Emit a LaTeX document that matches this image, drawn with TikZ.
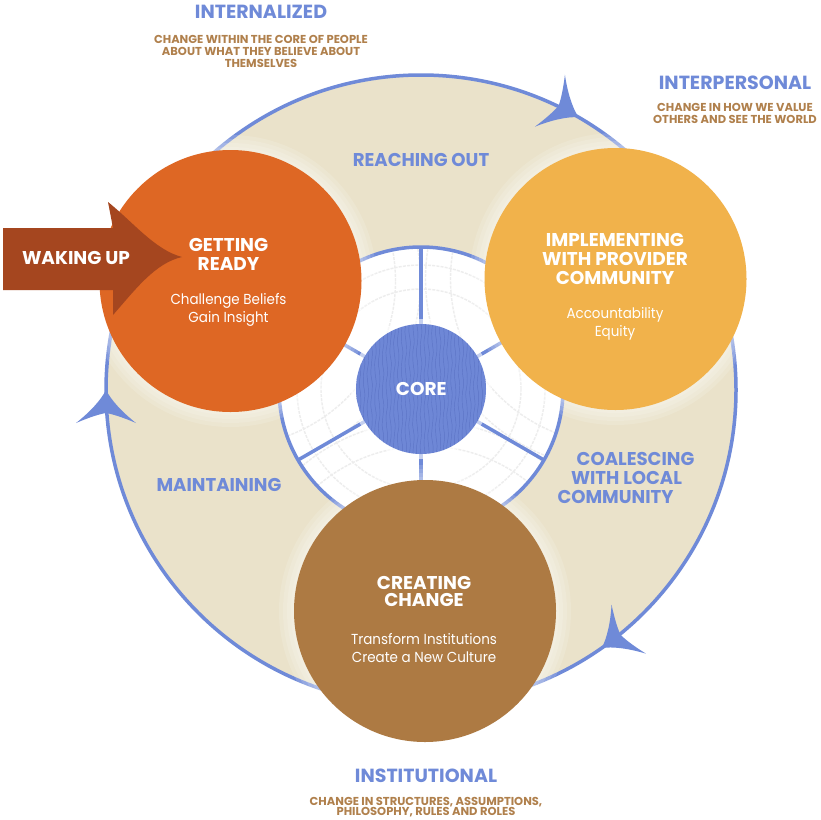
\documentclass[tikz,border=0pt]{standalone}
\usepackage{fontspec}
\usetikzlibrary{calc}
\setmainfont{Poppins}
\newfontfamily\headfont{Poppins}[FakeStretch=1.0]
\newfontfamily\labfont{Poppins}[FakeStretch=0.98]
\newfontfamily\bodyfont{Poppins}[FakeStretch=0.93]
\definecolor{bluec}{HTML}{6F8AD8}
\definecolor{beigec}{HTML}{EAE2CA}
\definecolor{orangec}{HTML}{DE6724}
\definecolor{yellowc}{HTML}{F1B24B}
\definecolor{brownc}{HTML}{AD7A43}
\definecolor{wakec}{HTML}{A5461F}
\definecolor{subc}{HTML}{B0804C}
\definecolor{corec}{HTML}{6E87D6}
\definecolor{coredark}{HTML}{5C74C6}
\begin{document}
\begin{tikzpicture}[x=1pt,y=-1pt,
  ringline/.style={draw=bluec, line width=3.5pt},
  bigcirc/.style={circle, minimum size=262pt, inner sep=0pt, draw=none},
  halo/.style={fill=white, fill opacity=0.14},
  chain/.style={draw=black!7, line width=1.4pt, dash pattern=on 3pt off 1.2pt},
  head/.style={font=\headfont\bfseries\fontsize{19}{22}\selectfont, text=bluec, inner sep=0pt, anchor=base},
  ringlab/.style={font=\labfont\bfseries\fontsize{18.5}{22}\selectfont, text=bluec, inner sep=0pt, anchor=base},
  sub/.style={font=\headfont\bfseries\fontsize{11.5}{13}\selectfont, text=subc, inner sep=0pt, anchor=base},
  title/.style={font=\headfont\bfseries\fontsize{18.5}{22}\selectfont, text=white, inner sep=0pt, anchor=base},
  body/.style={font=\bodyfont\fontsize{14.5}{18}\selectfont, text=white, inner sep=0pt, anchor=base},
  cyclehead/.style={fill=bluec}
]
\useasboundingbox (0,0) rectangle (821,819);
\fill[white] (0,0) rectangle (821,819);

% centres
\coordinate (C) at (421,390);
\coordinate (K) at (421,389);
\coordinate (GR) at (230.5,281);
\coordinate (IM) at (615.5,279);
\coordinate (CC) at (425,611);

% outer ring
\fill[beigec] (C) circle[radius=315pt];
\draw[ringline] (C) circle[radius=315pt];

% inner white disk
\fill[white] (K) circle[radius=142pt];
\begin{scope}
  \clip (K) circle[radius=140pt];
  \draw[chain] (K) circle[radius=100pt];
  \draw[chain] (K) circle[radius=124pt];
  \foreach \p in {GR,IM,CC}{
    \draw[chain] (\p) circle[radius=165pt];
    \draw[chain] (\p) circle[radius=190pt];
  }
\end{scope}
\draw[ringline] (K) circle[radius=142pt];
\foreach \a in {90,30,-30,-90,-150,150}
  \draw[ringline] ($(K)+(\a:64pt)$) -- ($(K)+(\a:142pt)$);

% core
\fill[white, opacity=0.6] (K) circle[radius=70pt];
\node[circle, minimum size=130pt, inner sep=0pt, fill=corec] (core) at (K) {};
\begin{scope}
  \clip (K) circle[radius=65pt];
  \foreach \i in {-17,...,17}
    \draw[coredark, line width=0.45pt] plot[smooth, domain=-68:68, samples=14]
      ({421 + \i*3.8 + 0.9*sin(\x*11 + \i*47)}, {389+\x});
\end{scope}

% arrowheads on the cycle
\newcommand\cyclearrow[3]{%
  \fill[cyclehead, shift={(#1,#2)}, rotate=#3]
    (0,0) .. controls (-10,-5) and (-22,-16) .. (-33,-30)
    .. controls (-27,-16) and (-24,-6) .. (-23,0)
    .. controls (-24,6) and (-27,16) .. (-33,30)
    .. controls (-22,16) and (-10,5) .. (0,0) -- cycle;}
\cyclearrow{578.5}{117.2}{-30}
\cyclearrow{601.7}{648}{-145}
\cyclearrow{106}{390}{90}

% halos and big circles
\foreach \p in {GR,IM,CC}{
  \foreach \r in {134,138,142,146}
    \fill[halo] (\p) circle[radius=\r pt];
}
\node[bigcirc, fill=orangec] (getting) at (GR) {};
\node[bigcirc, fill=yellowc] (implementing) at (IM) {};
\node[bigcirc, fill=brownc] (creating) at (CC) {};

% waking up arrow
\fill[wakec] (3,228) -- (113,228) -- (108,202)
  .. controls (133,222) and (155,250) .. (182,257)
  .. controls (155,263) and (135,290) .. (113,315)
  -- (113,290) -- (3,290) -- cycle;
\node[title] (wake) at (76,264.3) {WAKING UP};

% texts
\node[head] (internalized) at (261,18.5) {INTERNALIZED};
\node[sub] (int1) at (261,43.7) {CHANGE WITHIN THE CORE OF PEOPLE};
\node[sub] (int2) at (261,55.7) {ABOUT WHAT THEY BELIEVE ABOUT};
\node[sub] (int3) at (261,67.3) {THEMSELVES};

\node[head] (interpersonal) at (735,89.3) {INTERPERSONAL};
\node[sub] (ip1) at (735,111) {CHANGE IN HOW WE VALUE};
\node[sub] (ip2) at (735,123) {OTHERS AND SEE THE WORLD};

\node[head] (institutional) at (426,782.7) {INSTITUTIONAL};
\node[sub] (in1) at (426,805) {CHANGE IN STRUCTURES, ASSUMPTIONS,};
\node[sub] (in2) at (426,815.5) {PHILOSOPHY, RULES AND ROLES};

\node[ringlab] (reaching) at (421,166.7) {REACHING OUT};
\node[ringlab] (maintaining) at (219,491.7) {MAINTAINING};
\node[ringlab] (coal1) at (635.5,465.7) {COALESCING};
\node[ringlab] (coal2) at (626.5,484.3) {WITH LOCAL};
\node[ringlab] (coal3) at (615.5,503.3) {COMMUNITY};

\node[title] (gr1) at (228.5,251.7) {GETTING};
\node[title] (gr2) at (228.5,270) {READY};
\node[body] (gr3) at (228.5,304) {Challenge Beliefs};
\node[body] (gr4) at (228.5,322.7) {Gain Insight};

\node[title] (im1) at (615,246.7) {IMPLEMENTING};
\node[title] (im2) at (615,265.7) {WITH PROVIDER};
\node[title] (im3) at (615,284.3) {COMMUNITY};
\node[body] (im4) at (615,318.3) {Accountability};
\node[body] (im5) at (615,336.7) {Equity};

\node[title] (cc1) at (424,589) {CREATING};
\node[title] (cc2) at (424,606.7) {CHANGE};
\node[body] (cc3) at (424,644.3) {Transform Institutions};
\node[body] (cc4) at (424,662.7) {Create a New Culture};

\node[title] (coretext) at (421.3,395) {CORE};
\end{tikzpicture}
\end{document}
